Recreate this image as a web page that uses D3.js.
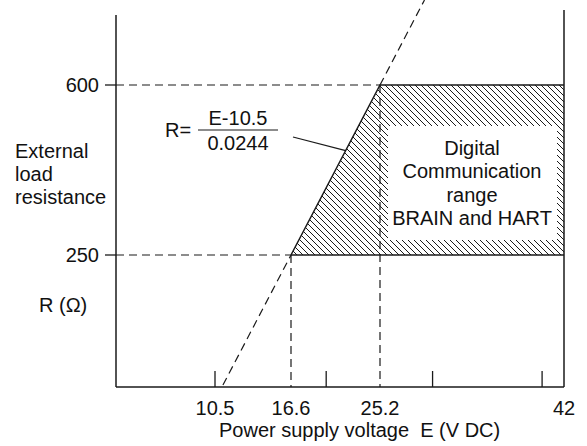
<!DOCTYPE html>
<html>
<head>
<meta charset="utf-8">
<script src="https://cdn.jsdelivr.net/npm/d3@7"></script>
<style>
  html, body { margin: 0; padding: 0; background: #fff; }
  svg text { font-family: "Liberation Sans", Arial, Helvetica, sans-serif; fill: #111; }
</style>
</head>
<body>
<svg id="chart" width="587" height="446"></svg>
<script>
// ---- data ----
const voltageBreaks = [2.5, 10.5, 16.6, 25.2, 42];      // schematic (piecewise) voltage axis
const resistanceBreaks = [-22, 250, 600, 745];          // schematic resistance axis
const xTickMarks = [10.5, 20, 30, 40];
const xTickLabels = ["10.5", "16.6", "25.2", "42"];
const yTickLabels = ["250", "600"];
const minVoltage = 16.6, maxVoltage = 42;
const minLoad = 250, maxLoad = 600;
const kneeVoltage = 25.2;                               // voltage at 600 Ω
const formulaOffset = 10.5, formulaSlope = 0.0244;
const leaderR = 465;
const rangeText = ["Digital", "Communication", "range", "BRAIN and HART"];
const yTitle = ["External", "load", "resistance"];

// ---- scales ----
const x = d3.scaleLinear().domain(voltageBreaks).range([116, 215, 291, 380, 564]);
const y = d3.scaleLinear().domain(resistanceBreaks).range([387, 255, 85, 15]);

const svg = d3.select("#chart");
const ink = "#1a1a1a";

// hatch pattern
const defs = svg.append("defs");
const hp = 6;
const pat = defs.append("pattern").attr("id", "hatch")
  .attr("patternUnits", "userSpaceOnUse").attr("width", hp).attr("height", hp);
pat.append("path").attr("d", `M-1,-1 L${hp + 1},${hp + 1} M-1,${hp - 1} L1,${hp + 1} M${hp - 1},-1 L${hp + 1},1`)
  .attr("stroke", ink).attr("stroke-width", 1);

const xL = x(voltageBreaks[0]), xR = x(maxVoltage);
const yB = y(resistanceBreaks[0]), yT = y(resistanceBreaks[3]);

// line through (16.6,250) and (25.2,600) in picture space
const p1 = [x(minVoltage), y(minLoad)], p2 = [x(kneeVoltage), y(maxLoad)];
const k = (p2[0] - p1[0]) / (p2[1] - p1[1]);
const xAtY = yy => p1[0] + (yy - p1[1]) * k;

// hatched region
svg.append("path")
  .attr("d", d3.line()([p1, p2, [xR, y(maxLoad)], [xR, y(minLoad)]]) + "Z")
  .attr("fill", "url(#hatch)").attr("stroke", "none");

// white text box inside hatch
svg.append("rect").attr("x", 388).attr("y", 126).attr("width", 169).attr("height", 114)
  .attr("fill", "#fff");

const dash = "8,5";
// horizontal dashed guides
svg.append("line").attr("x1", xL).attr("x2", p2[0]).attr("y1", y(maxLoad)).attr("y2", y(maxLoad))
  .attr("stroke", ink).attr("stroke-width", 1.2).attr("stroke-dasharray", dash);
svg.append("line").attr("x1", xL).attr("x2", p1[0]).attr("y1", y(minLoad)).attr("y2", y(minLoad))
  .attr("stroke", ink).attr("stroke-width", 1.2).attr("stroke-dasharray", dash);
// vertical dashed guides
[[minVoltage, minLoad], [kneeVoltage, maxLoad]].forEach(([v, r]) => {
  svg.append("line").attr("x1", x(v)).attr("x2", x(v)).attr("y1", y(r)).attr("y2", yB)
    .attr("stroke", ink).attr("stroke-width", 1.2).attr("stroke-dasharray", dash);
});
// sloped dashed extensions
svg.append("line").attr("x1", xAtY(yB - 2)).attr("y1", yB - 2).attr("x2", p1[0]).attr("y2", p1[1])
  .attr("stroke", ink).attr("stroke-width", 1.2).attr("stroke-dasharray", dash);
svg.append("line").attr("x1", p2[0]).attr("y1", p2[1]).attr("x2", xAtY(0)).attr("y2", 0)
  .attr("stroke", ink).attr("stroke-width", 1.2).attr("stroke-dasharray", dash);

// solid boundary of region
svg.append("path").attr("d", d3.line()([p1, p2, [xR, y(maxLoad)]]))
  .attr("fill", "none").attr("stroke", ink).attr("stroke-width", 1.5);
svg.append("line").attr("x1", p1[0]).attr("x2", xR).attr("y1", y(minLoad)).attr("y2", y(minLoad))
  .attr("stroke", ink).attr("stroke-width", 1.5);
svg.append("line").attr("x1", xR).attr("x2", xR).attr("y1", 10).attr("y2", yB)
  .attr("stroke", ink).attr("stroke-width", 1.5);

// axes
svg.append("line").attr("x1", xL).attr("x2", xL).attr("y1", yT).attr("y2", yB)
  .attr("stroke", ink).attr("stroke-width", 1.5);
svg.append("line").attr("x1", xL).attr("x2", xR).attr("y1", yB).attr("y2", yB)
  .attr("stroke", ink).attr("stroke-width", 1.5);

// x tick marks (inward)
svg.selectAll(".xt").data(xTickMarks).enter().append("line")
  .attr("x1", d => x(d)).attr("x2", d => x(d)).attr("y1", yB).attr("y2", yB - 16)
  .attr("stroke", ink).attr("stroke-width", 1.3);
// y tick marks (outward)
svg.selectAll(".yt").data(yTickLabels).enter().append("line")
  .attr("x1", xL - 11).attr("x2", xL).attr("y1", d => y(+d)).attr("y2", d => y(+d))
  .attr("stroke", ink).attr("stroke-width", 1.3);

const fs = 20;
// x tick labels
svg.selectAll(".xl").data(xTickLabels).enter().append("text")
  .attr("x", d => x(+d)).attr("y", 415).attr("text-anchor", "middle")
  .attr("font-size", fs).text(d => d);
// y tick labels
svg.selectAll(".yl").data(yTickLabels).enter().append("text")
  .attr("x", 99).attr("y", d => y(+d) + 7).attr("text-anchor", "end")
  .attr("font-size", fs).text(d => d);

// axis titles
svg.append("text").attr("x", 219).attr("y", 437).attr("font-size", fs)
  .text("Power supply voltage\u00a0\u00a0E (V DC)");
svg.selectAll(".yti").data(yTitle).enter().append("text")
  .attr("x", 15).attr("y", (d, i) => 158 + i * 23).attr("font-size", fs).text(d => d);
svg.append("text").attr("x", 39).attr("y", 312).attr("font-size", fs).text("R (\u03A9)");

// formula
svg.append("text").attr("x", 165).attr("y", 137).attr("font-size", fs).text("R=");
svg.append("text").attr("x", 238).attr("y", 125).attr("text-anchor", "middle").attr("font-size", fs)
  .text("E-" + formulaOffset);
svg.append("line").attr("x1", 198).attr("x2", 278).attr("y1", 130).attr("y2", 130)
  .attr("stroke", "#666").attr("stroke-width", 1.5);
svg.append("text").attr("x", 238).attr("y", 150).attr("text-anchor", "middle").attr("font-size", fs)
  .text(formulaSlope.toFixed(4));
// leader line
svg.append("line").attr("x1", 293).attr("y1", 137).attr("x2", xAtY(y(leaderR))).attr("y2", y(leaderR))
  .attr("stroke", ink).attr("stroke-width", 1.2);

// range text
svg.selectAll(".rt").data(rangeText).enter().append("text")
  .attr("x", 472).attr("y", (d, i) => 155 + i * 23.3).attr("text-anchor", "middle")
  .attr("font-size", fs).text(d => d);
</script>
</body>
</html>
